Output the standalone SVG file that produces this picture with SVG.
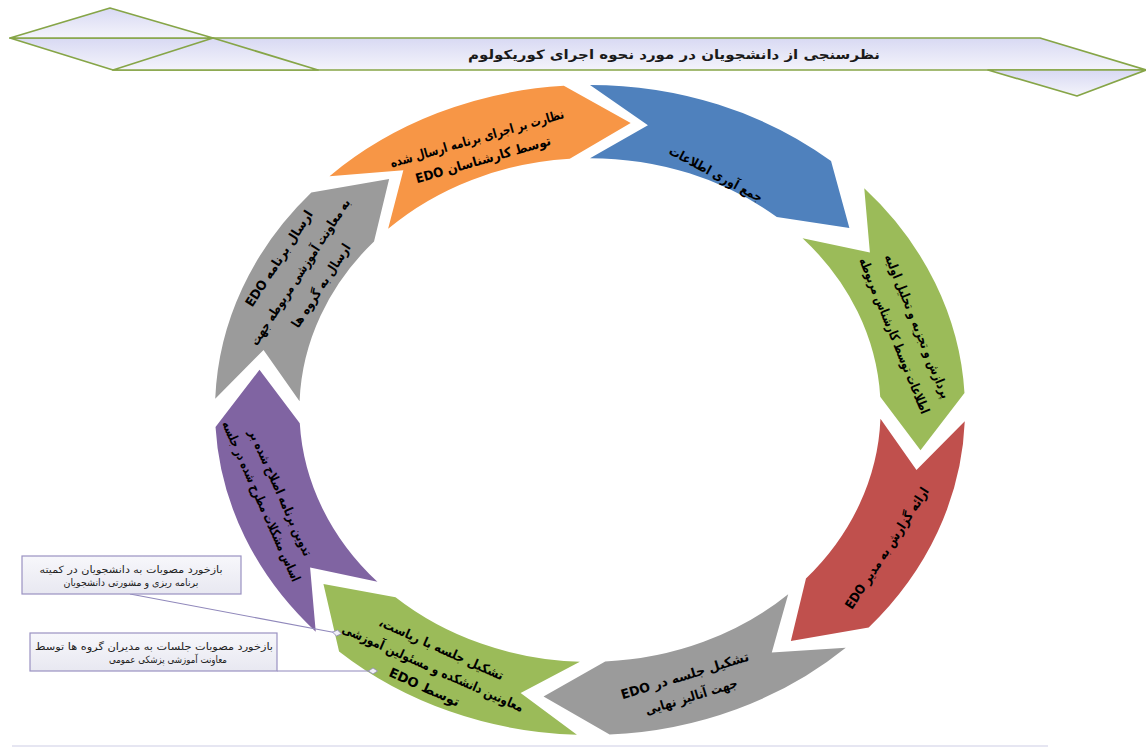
<svg xmlns="http://www.w3.org/2000/svg" width="1146" height="750" viewBox="0 0 1146 750">
<defs>
<linearGradient id="bandFill" x1="0" y1="0" x2="0" y2="1"><stop offset="0" stop-color="#D8D9F3"/><stop offset="1" stop-color="#F4F4FB"/></linearGradient>
<linearGradient id="boxFill" x1="0" y1="0" x2="0" y2="1"><stop offset="0" stop-color="#F7F7FB"/><stop offset="1" stop-color="#E8E8F1"/></linearGradient>
<path id="seg" d="M100,0 A100,100 0 0 1 76.604,64.279 L56.01,69.17 L59.368,49.816 A77.5,77.5 0 0 0 77.5,0 L87.65,15.45 Z"/>
<marker id="dia" markerWidth="10" markerHeight="8" refX="5" refY="4" orient="auto" markerUnits="userSpaceOnUse"><path d="M0.5,4 L5,1 L9.5,4 L5,7 Z" fill="#F0F0F6" stroke="#9088BB" stroke-width="0.8"/></marker>
<style>
.band{fill:url(#bandFill);stroke:#86A547;stroke-width:1.7;stroke-linejoin:round}
.t{font-family:'DejaVu Sans',sans-serif;font-weight:bold;font-size:13px;fill:#000;text-anchor:middle;direction:rtl}
.title{font-family:'DejaVu Sans',sans-serif;font-weight:bold;font-size:13px;fill:#1a1a1a;text-anchor:middle;direction:rtl}
.c{font-family:'DejaVu Sans',sans-serif;font-size:10px;fill:#222;text-anchor:middle;direction:rtl}
.box{fill:url(#boxFill);stroke:#9A92C2;stroke-width:1.2}
.conn{fill:none;stroke:#9088BB;stroke-width:1.1;marker-end:url(#dia)}
</style>
</defs>
<rect width="1146" height="750" fill="#FFFFFF"/>

<g id="title-banner">
<polygon class="band" points="10,38 1040,38 1146,70 113,70"/>
<polygon class="band" points="10,38 110,8 213,38"/>
<polygon class="band" points="113,70 213,38 318,70"/>
<polygon class="band" points="988,70 1077,96 1146,70"/>
<text class="title" x="674" y="59" textLength="412" lengthAdjust="spacingAndGlyphs">نظرسنجی از دانشجویان در مورد نحوه اجرای کوریکولوم</text>
</g>

<g id="n1-collect">
<use href="#seg" transform="translate(590,410) scale(3.75,3.25) rotate(-90)" fill="#4F81BD"/>
<text class="t" transform="translate(716,174) rotate(28)" y="4.5" textLength="104" lengthAdjust="spacingAndGlyphs">جمع آوری اطلاعات</text>
</g>

<g id="n2-analysis">
<use href="#seg" transform="translate(590,410) scale(3.75,3.25) rotate(-43)" fill="#9BBB59"/>
<text class="t" transform="translate(906,331) rotate(68)" y="-8" textLength="154" lengthAdjust="spacingAndGlyphs">پردازش و تجزیه و تحلیل اولیه</text>
<text class="t" transform="translate(906,331) rotate(68)" y="17" textLength="167" lengthAdjust="spacingAndGlyphs">اطلاعات توسط کارشناس مربوطه</text>
</g>

<g id="n3-report">
<use href="#seg" transform="translate(590,410) scale(3.75,3.25) rotate(2)" fill="#C0504D"/>
<text class="t" transform="translate(887,548) rotate(-57)" y="4.5" textLength="142" lengthAdjust="spacingAndGlyphs">ارائه گزارش به مدیر EDO</text>
</g>

<g id="n4-meeting-edo">
<use href="#seg" transform="translate(590,410) scale(3.75,3.25) rotate(47)" fill="#9B9B9B"/>
<text class="t" transform="translate(688,686) rotate(-17)" y="-6.5" textLength="133" lengthAdjust="spacingAndGlyphs">تشکیل جلسه در EDO</text>
<text class="t" transform="translate(688,686) rotate(-17)" y="15.5" textLength="96" lengthAdjust="spacingAndGlyphs">جهت آنالیز نهایی</text>
</g>

<g id="n5-meeting-faculty">
<use href="#seg" transform="translate(590,410) scale(3.75,3.25) rotate(92)" fill="#9BBB59"/>
<text class="t" transform="translate(433,668) rotate(24)" y="-16.5" textLength="135" lengthAdjust="spacingAndGlyphs">تشکیل جلسه با ریاست،</text>
<text class="t" transform="translate(433,668) rotate(24)" y="4.5" textLength="197" lengthAdjust="spacingAndGlyphs">معاونین دانشکده و مسئولین آموزشی</text>
<text class="t" transform="translate(433,668) rotate(24)" y="25.5" textLength="76" lengthAdjust="spacingAndGlyphs">توسط EDO</text>
</g>

<g id="n6-revise">
<use href="#seg" transform="translate(590,410) scale(3.75,3.25) rotate(137)" fill="#8064A2"/>
<text class="t" transform="translate(271,497) rotate(66)" y="-6" textLength="137" lengthAdjust="spacingAndGlyphs">تدوین برنامه اصلاح شده بر</text>
<text class="t" transform="translate(271,497) rotate(66)" y="15" textLength="174" lengthAdjust="spacingAndGlyphs">اساس مشکلات مطرح شده در جلسه</text>
</g>

<g id="n7-send">
<use href="#seg" transform="translate(590,410) scale(3.75,3.25) rotate(182)" fill="#9B9B9B"/>
<text class="t" transform="translate(300,272) rotate(-57)" y="-20.5" textLength="112" lengthAdjust="spacingAndGlyphs">ارسال برنامه EDO</text>
<text class="t" transform="translate(300,272) rotate(-57)" y="4.5" textLength="172" lengthAdjust="spacingAndGlyphs">به معاونت آموزشی مربوطه جهت</text>
<text class="t" transform="translate(300,272) rotate(-57)" y="29.5" textLength="97" lengthAdjust="spacingAndGlyphs">ارسال به گروه ها</text>
</g>

<g id="n8-monitor">
<use href="#seg" transform="translate(590,410) scale(3.75,3.25) rotate(226)" fill="#F79646"/>
<text class="t" transform="translate(480,149) rotate(-16)" y="-6.5" textLength="180" lengthAdjust="spacingAndGlyphs">نظارت بر اجرای برنامه ارسال شده</text>
<text class="t" transform="translate(480,149) rotate(-16)" y="15.5" textLength="140" lengthAdjust="spacingAndGlyphs">توسط کارشناسان EDO</text>
</g>

<g id="connectors">
<path class="conn" d="M130,594 L337,633"/>
<path class="conn" d="M277,671 L373,671"/>
</g>

<g id="callout-students">
<rect class="box" x="22" y="556" width="219" height="38"/>
<text class="c" x="131" y="573" textLength="183" lengthAdjust="spacingAndGlyphs">بازخورد مصوبات به دانشجویان در کمیته</text>
<text class="c" x="131" y="585.5" textLength="135" lengthAdjust="spacingAndGlyphs">برنامه ریزی و مشورتی دانشجویان</text>
</g>

<g id="callout-heads">
<rect class="box" x="30" y="633" width="247" height="38"/>
<text class="c" x="154" y="650" textLength="238" lengthAdjust="spacingAndGlyphs">بازخورد مصوبات جلسات به مدیران گروه ها توسط</text>
<text class="c" x="168" y="663" textLength="118" lengthAdjust="spacingAndGlyphs">معاونت آموزشی پزشکی عمومی</text>
</g>

<line x1="12" y1="746" x2="1048" y2="746" stroke="#E6E6F2" stroke-width="2"/>
</svg>
